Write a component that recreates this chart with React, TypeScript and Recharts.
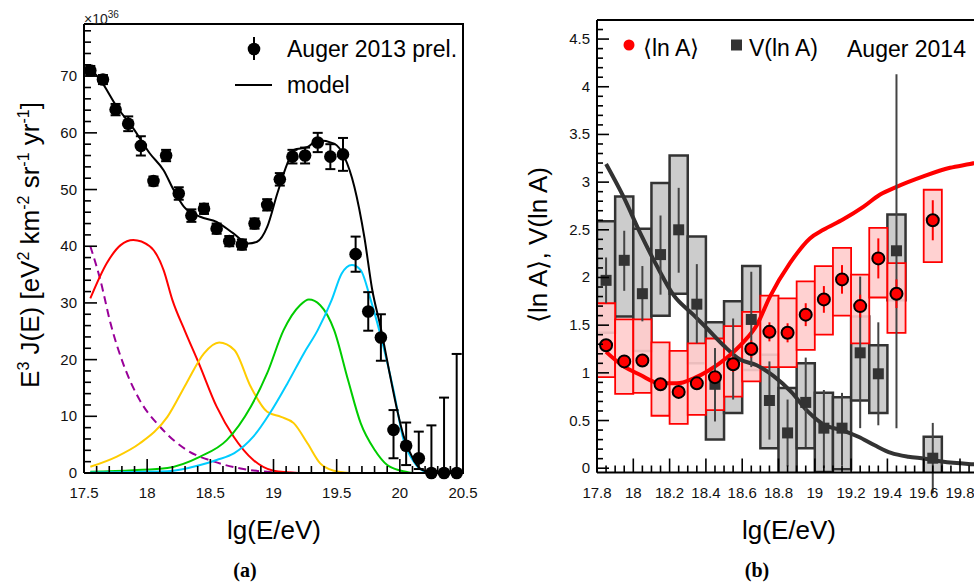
import React from 'react';
import { ComposedChart, Line, Scatter, XAxis, YAxis, ErrorBar, ReferenceArea } from 'recharts';

// ================= Panel (a): spectrum =================
const specLg = [17.55, 17.65, 17.75, 17.85, 17.95, 18.05, 18.15, 18.25, 18.35, 18.45, 18.55, 18.65, 18.75, 18.85, 18.95, 19.05, 19.15, 19.25, 19.35, 19.45, 19.55, 19.65, 19.75, 19.85, 19.95, 20.05, 20.15, 20.25, 20.35, 20.45];
const specFlux = [71.0, 69.4, 64.1, 61.6, 57.7, 51.5, 56.0, 49.3, 45.4, 46.6, 43.1, 40.9, 40.3, 44.0, 47.3, 51.8, 55.8, 56.0, 58.3, 55.8, 56.2, 38.6, 28.5, 23.9, 7.6, 4.8, 2.6, 0, 0, 0];
const specErrLow = [0.8, 0.8, 1.0, 1.3, 1.7, 0.8, 1.0, 1.1, 1.1, 0.9, 0.9, 0.9, 0.9, 0.9, 1.0, 1.1, 1.2, 1.4, 1.7, 2.2, 2.9, 3.1, 3.4, 4.1, 5.0, 3.4, 1.9, 0, 0, 0];
const specErrHigh = [0.8, 0.8, 1.0, 1.3, 1.7, 0.8, 1.0, 1.1, 1.1, 0.9, 0.9, 0.9, 0.9, 0.9, 1.0, 1.1, 1.2, 1.4, 1.7, 2.2, 2.9, 3.1, 3.4, 4.1, 3.5, 4.1, 4.7, 8.4, 13.3, 21.0];

const modelLg = [17.55, 17.63, 17.76, 17.89, 18.02, 18.13, 18.21, 18.29, 18.42, 18.55, 18.68, 18.8, 18.87, 18.95, 19.03, 19.11, 19.16, 19.27, 19.35, 19.48, 19.56, 19.64, 19.72, 19.78, 19.85, 19.92, 19.98, 20.03, 20.11, 20.18, 20.3];
const modelFlux = [71.3, 69.3, 64.6, 60.8, 56.4, 53.4, 49.9, 47.0, 45.2, 44.3, 42.3, 40.5, 40.8, 43.4, 49.3, 54.6, 57.0, 57.5, 58.7, 58.1, 55.8, 50.5, 41.5, 32.5, 25.5, 17.5, 11.0, 6.5, 2.3, 0.5, 0];

const redLg = [17.55, 17.68, 17.79, 17.89, 18.02, 18.13, 18.2, 18.3, 18.41, 18.55, 18.685, 18.84, 19.0, 19.2];
const redFlux = [30.8, 37.0, 40.2, 41.1, 40.0, 35.8, 30.5, 25.0, 19.3, 11.7, 6.4, 2.3, 0.4, 0];

const purpleLg = [17.55, 17.63, 17.71, 17.81, 17.94, 18.1, 18.31, 18.53, 18.74, 18.95, 19.2];
const purpleFlux = [40.0, 34.0, 26.4, 19.3, 12.9, 8.2, 4.1, 2.0, 0.8, 0.2, 0];

const yellowLg = [17.55, 17.76, 17.94, 18.16, 18.31, 18.45, 18.57, 18.69, 18.82, 18.95, 19.06, 19.16, 19.27, 19.37, 19.48, 19.6];
const yellowFlux = [1.1, 2.9, 5.2, 9.9, 15.8, 21.1, 23.0, 21.7, 15.2, 10.8, 9.9, 8.8, 5.2, 1.7, 0.4, 0];

const greenLg = [17.55, 17.89, 18.16, 18.42, 18.63, 18.82, 18.95, 19.08, 19.21, 19.28, 19.37, 19.48, 19.59, 19.69, 19.8, 19.9, 20.01, 20.1];
const greenFlux = [0.2, 0.5, 0.9, 2.9, 5.8, 11.7, 17.6, 25.2, 29.6, 30.6, 29.6, 25.2, 16.4, 8.8, 4.1, 1.4, 0.4, 0];

const cyanLg = [17.55, 18.16, 18.42, 18.55, 18.69, 18.84, 18.97, 19.11, 19.24, 19.35, 19.46, 19.54, 19.62, 19.69, 19.77, 19.87, 19.95, 20.03, 20.11, 20.18, 20.25];
const cyanFlux = [0.1, 0.3, 1.4, 2.3, 3.5, 6.4, 10.5, 15.8, 21.1, 25.2, 30.5, 35.2, 36.7, 35.8, 30.5, 22.3, 14.6, 5.8, 2.0, 0.4, 0];

const xMajorA = [17.5, 18, 18.5, 19, 19.5, 20, 20.5];
const yMajorA = [0, 10, 20, 30, 40, 50, 60, 70];

// ================= Panel (b): composition =================
const compLg = [17.85, 17.95, 18.05, 18.15, 18.25, 18.35, 18.45, 18.55, 18.65, 18.75, 18.85, 18.95, 19.05, 19.15, 19.25, 19.35, 19.45, 19.65];

const lnA = [1.29, 1.12, 1.13, 0.88, 0.8, 0.89, 0.955, 1.09, 1.25, 1.43, 1.42, 1.61, 1.77, 1.98, 1.7, 2.2, 1.83, 2.6];
const lnAStat = [0.05, 0.05, 0.05, 0.05, 0.05, 0.06, 0.07, 0.08, 0.09, 0.1, 0.1, 0.12, 0.14, 0.15, 0.12, 0.21, 0.15, 0.21];
const lnASysLow = [0.955, 0.78, 0.79, 0.55, 0.465, 0.56, 0.61, 0.75, 0.91, 1.06, 1.06, 1.24, 1.4, 1.6, 1.31, 1.79, 1.42, 2.16];
const lnASysHigh = [1.73, 1.56, 1.56, 1.32, 1.23, 1.31, 1.36, 1.49, 1.64, 1.81, 1.78, 1.96, 2.12, 2.31, 2.03, 2.52, 2.15, 2.92];

const vLnA = [1.97, 2.18, 1.83, 2.24, 2.5, 1.72, 0.88, 1.1, 1.56, 0.71, 0.37, 0.69, 0.42, 0.42, 1.21, 0.99, 2.28, 0.105];
const vStatLow = [0.24, 0.32, 0.29, 0.42, 0.45, 0.41, 0.39, 0.38, 0.5, 0.41, 0.35, 0.47, 0.42, 0.39, 0.79, 0.54, 1.86, 0.37];
const vStatHigh = [0.24, 0.31, 0.29, 0.41, 0.44, 0.42, 0.38, 0.47, 0.5, 0.41, 0.35, 0.47, 0.4, 0.37, 0.8, 0.54, 1.85, 0.37];
const vSysLow = [1.42, 1.59, 1.23, 1.6, 1.83, 1.1, 0.3, 0.58, 1.03, 0.21, -0.1, 0.21, -0.04, -0.01, 0.71, 0.58, 1.76, -0.1];
const vSysHigh = [2.59, 2.85, 2.51, 2.99, 3.28, 2.43, 1.53, 1.75, 2.12, 1.19, 0.84, 1.1, 0.79, 0.745, 1.59, 1.29, 2.66, 0.33];

const lnAModelLg = [17.85, 17.945, 18.037, 18.147, 18.24, 18.33, 18.42, 18.51, 18.61, 18.68, 18.753, 18.863, 18.973, 19.047, 19.157, 19.267, 19.36, 19.45, 19.598, 19.745, 19.855, 20.0];
const lnAModelVal = [1.22, 1.07, 0.98, 0.89, 0.89, 0.94, 1.03, 1.15, 1.33, 1.5, 1.8, 2.15, 2.41, 2.5, 2.61, 2.74, 2.87, 2.95, 3.06, 3.15, 3.19, 3.25];

const vModelLg = [17.85, 17.945, 18.037, 18.13, 18.22, 18.33, 18.404, 18.496, 18.588, 18.68, 18.77, 18.87, 18.964, 19.056, 19.148, 19.24, 19.33, 19.42, 19.515, 19.607, 19.7, 19.846, 20.0];
const vModelVal = [3.19, 2.85, 2.47, 2.12, 1.82, 1.61, 1.47, 1.29, 1.14, 1.08, 0.97, 0.8, 0.59, 0.45, 0.4, 0.33, 0.24, 0.16, 0.12, 0.1, 0.07, 0.045, 0.035];

const xMajorB = [17.8, 18, 18.2, 18.4, 18.6, 18.8, 19, 19.2, 19.4, 19.6, 19.8, 20];
const yMajorB = [0, 0.5, 1, 1.5, 2, 2.5, 3, 3.5, 4, 4.5];

// ---------- helpers ----------
const FONT = '"Liberation Sans", Arial, Helvetica, sans-serif';
const steps = (a: number, b: number, s: number) => {
  const out: number[] = [];
  const n = Math.round((b - a) / s);
  for (let i = 0; i <= n; i++) out.push(Math.round((a + i * s) * 1000) / 1000);
  return out;
};
const pts = (xs: number[], ys: number[]) => xs.map((x, i) => ({ x, y: ys[i] }));
const isIn = (arr: number[], v: number) => arr.some((m) => Math.abs(m - v) < 1e-6);

const makeXTick = (majors: number[], majLen: number, minLen: number) => (p: any) => {
  const v = p.payload.value;
  const maj = isIn(majors, v);
  return (
    <g>
      <line x1={p.x} x2={p.x} y1={p.y} y2={p.y - (maj ? majLen : minLen)} stroke="#000" strokeWidth={1.6} />
      {maj && (
        <text x={p.x} y={p.y + 25} textAnchor="middle" fontSize={15} fontFamily={FONT} fill="#111">
          {String(v)}
        </text>
      )}
    </g>
  );
};
const makeYTick = (majors: number[], majLen: number, minLen: number) => (p: any) => {
  const v = p.payload.value;
  const maj = isIn(majors, v);
  return (
    <g>
      <line x1={p.x} x2={p.x + (maj ? majLen : minLen)} y1={p.y} y2={p.y} stroke="#000" strokeWidth={1.6} />
      {maj && (
        <text x={p.x - 7} y={p.y + 5} textAnchor="end" fontSize={15} fontFamily={FONT} fill="#111">
          {String(v)}
        </text>
      )}
    </g>
  );
};

const BlackDot = (p: any) => <circle cx={p.cx} cy={p.cy} r={6.3} fill="#000" />;
const RedDot = (p: any) => <circle cx={p.cx} cy={p.cy} r={6} fill="#ff0000" stroke="#000" strokeWidth={2} />;
const GraySq = (p: any) => <rect x={p.cx - 5.5} y={p.cy - 5.5} width={11} height={11} fill="#333" />;

const specData = specLg.map((x, i) => ({ x, y: specFlux[i], err: [specErrLow[i], specErrHigh[i]] }));
const lnAData = compLg.map((x, i) => ({ x, y: lnA[i], err: [lnAStat[i], lnAStat[i]] }));
const vData = compLg.map((x, i) => ({ x, y: vLnA[i], err: [vStatLow[i], vStatHigh[i]] }));

const abs = (extra: React.CSSProperties): React.CSSProperties => ({ position: 'absolute', fontFamily: FONT, color: '#000', whiteSpace: 'nowrap', ...extra });

export default function App() {
  return (
    <div style={{ position: 'fixed', left: 0, top: 0, width: 974, height: 586, overflow: 'hidden', background: '#fff' }}>
      {/* ---------- Panel (a) ---------- */}
      <div style={{ position: 'absolute', left: 0, top: 0 }}>
        <ComposedChart width={490} height={586} margin={{ top: 24, right: 27, left: 24, bottom: 73 }}>
          <XAxis
            type="number"
            dataKey="x"
            domain={[17.5, 20.5]}
            ticks={steps(17.5, 20.5, 0.1)}
            interval={0}
            tickSize={0}
            tickMargin={0}
            tickLine={false}
            tick={makeXTick(xMajorA, 14, 7)}
            axisLine={{ stroke: '#000', strokeWidth: 2 }}
            height={40}
          />
          <YAxis
            type="number"
            dataKey="y"
            domain={[0, 79.2]}
            ticks={steps(0, 78, 2)}
            interval={0}
            tickSize={0}
            tickMargin={0}
            tickLine={false}
            tick={makeYTick(yMajorA, 13, 7)}
            axisLine={{ stroke: '#000', strokeWidth: 2 }}
            width={60}
          />
          <Line data={pts(purpleLg, purpleFlux)} dataKey="y" type="monotone" stroke="#990099" strokeWidth={2} strokeDasharray="8 5" dot={false} isAnimationActive={false} />
          <Line data={pts(redLg, redFlux)} dataKey="y" type="monotone" stroke="#ff0000" strokeWidth={2} dot={false} isAnimationActive={false} />
          <Line data={pts(yellowLg, yellowFlux)} dataKey="y" type="monotone" stroke="#ffcc00" strokeWidth={2} dot={false} isAnimationActive={false} />
          <Line data={pts(greenLg, greenFlux)} dataKey="y" type="monotone" stroke="#00cc00" strokeWidth={2} dot={false} isAnimationActive={false} />
          <Line data={pts(cyanLg, cyanFlux)} dataKey="y" type="monotone" stroke="#00ccff" strokeWidth={2} dot={false} isAnimationActive={false} />
          <Line data={pts(modelLg, modelFlux)} dataKey="y" type="monotone" stroke="#000" strokeWidth={2} dot={false} isAnimationActive={false} />
          <Scatter data={specData} dataKey="y" shape={BlackDot} isAnimationActive={false}>
            <ErrorBar dataKey="err" direction="y" width={5} stroke="#000" strokeWidth={2} isAnimationActive={false} />
          </Scatter>
        </ComposedChart>
      </div>

      {/* frame (a) top + right */}
      <div style={{ position: 'absolute', left: 84, top: 23, width: 380, height: 451, boxSizing: 'border-box', borderTop: '2px solid #000', borderRight: '2px solid #000' }} />

      {/* legend (a) */}
      <svg style={{ position: 'absolute', left: 0, top: 0 }} width={490} height={120}>
        <line x1={254} x2={254} y1={37} y2={60} stroke="#000" strokeWidth={2} />
        <circle cx={254} cy={49} r={6.3} fill="#000" />
        <line x1={235} x2={272} y1={85} y2={85} stroke="#000" strokeWidth={2} />
      </svg>
      <div style={abs({ left: 287, top: 35, fontSize: 23, lineHeight: '28px' })}>Auger 2013 prel.</div>
      <div style={abs({ left: 287, top: 71, fontSize: 23, lineHeight: '28px' })}>model</div>
      <div style={abs({ left: 84, top: 6, fontSize: 14, lineHeight: '18px', color: '#222' })}>
        ×10<sup style={{ fontSize: 10 }}>36</sup>
      </div>

      {/* axis titles (a) */}
      <div style={abs({ left: 274, top: 530, fontSize: 26, lineHeight: '30px', transform: 'translate(-50%, -50%)' })}>lg(E/eV)</div>
      <div style={abs({ left: 27, top: 245, fontSize: 26, lineHeight: '30px', transform: 'translate(-50%, -50%) rotate(-90deg)' })}>
        E<sup style={{ fontSize: 16 }}>3</sup> J(E) [eV<sup style={{ fontSize: 16 }}>2</sup> km<sup style={{ fontSize: 16 }}>-2</sup> sr<sup style={{ fontSize: 16 }}>-1</sup> yr<sup style={{ fontSize: 16 }}>-1</sup>]
      </div>
      <div style={abs({ left: 245, top: 570, fontSize: 20, lineHeight: '24px', fontWeight: 'bold', fontFamily: '"Liberation Serif", "DejaVu Serif", serif', transform: 'translate(-50%, -50%)' })}>(a)</div>

      {/* ---------- Panel (b) ---------- */}
      <div style={{ position: 'absolute', left: 490, top: 0 }}>
        <ComposedChart width={520} height={586} margin={{ top: 20, right: 13.7, left: 47, bottom: 73.5 }}>
          <XAxis
            type="number"
            dataKey="x"
            domain={[17.8, 20.0]}
            ticks={steps(17.8, 20.0, 0.05)}
            interval={0}
            tickSize={0}
            tickMargin={0}
            tickLine={false}
            tick={makeXTick(xMajorB, 14, 7)}
            axisLine={{ stroke: '#000', strokeWidth: 2 }}
            height={40}
          />
          <YAxis
            type="number"
            dataKey="y"
            domain={[-0.045, 4.7]}
            allowDataOverflow
            ticks={steps(0, 4.7, 0.1)}
            interval={0}
            tickSize={0}
            tickMargin={0}
            tickLine={false}
            tick={makeYTick(yMajorB, 12, 6)}
            axisLine={{ stroke: '#000', strokeWidth: 2 }}
            width={60}
          />
          {compLg.map((x, i) => (
            <ReferenceArea key={'vb' + i} x1={x - 0.05} x2={x + 0.05} y1={vSysLow[i]} y2={vSysHigh[i]} fill="#cccccc" fillOpacity={1} stroke="#333" strokeWidth={2.5} strokeOpacity={1} ifOverflow="hidden" />
          ))}
          {compLg.map((x, i) => (
            <ReferenceArea key={'rb' + i} x1={x - 0.05} x2={x + 0.05} y1={lnASysLow[i]} y2={lnASysHigh[i]} fill="#ffcccc" fillOpacity={0.9} stroke="#ff0000" strokeWidth={1.8} strokeOpacity={1} ifOverflow="hidden" />
          ))}
          <Line data={pts(vModelLg, vModelVal)} dataKey="y" type="monotone" stroke="#333" strokeWidth={4} dot={false} isAnimationActive={false} />
          <Line data={pts(lnAModelLg, lnAModelVal)} dataKey="y" type="monotone" stroke="#ff0000" strokeWidth={4} dot={false} isAnimationActive={false} />
          <Scatter data={vData} dataKey="y" shape={GraySq} isAnimationActive={false}>
            <ErrorBar dataKey="err" direction="y" width={0} stroke="#444" strokeWidth={2} isAnimationActive={false} />
          </Scatter>
          <Scatter data={lnAData} dataKey="y" shape={RedDot} isAnimationActive={false}>
            <ErrorBar dataKey="err" direction="y" width={0} stroke="#ff0000" strokeWidth={2} isAnimationActive={false} />
          </Scatter>
        </ComposedChart>
      </div>

      {/* frame (b) top */}
      <div style={{ position: 'absolute', left: 597, top: 19, width: 420, height: 2, background: '#000' }} />

      {/* legend (b) */}
      <svg style={{ position: 'absolute', left: 600, top: 30 }} width={150} height={30}>
        <circle cx={29} cy={15} r={5.5} fill="#ff0000" />
        <rect x={131} y={9.5} width={11} height={11} fill="#333" />
      </svg>
      <div style={abs({ left: 643, top: 34, fontSize: 23, lineHeight: '28px' })}>⟨ln A⟩</div>
      <div style={abs({ left: 749, top: 34, fontSize: 23, lineHeight: '28px' })}>V(ln A)</div>
      <div style={abs({ left: 847, top: 35, fontSize: 23, lineHeight: '28px' })}>Auger 2014</div>

      {/* axis titles (b) */}
      <div style={abs({ left: 789, top: 530, fontSize: 26, lineHeight: '30px', transform: 'translate(-50%, -50%)' })}>lg(E/eV)</div>
      <div style={abs({ left: 538, top: 245, fontSize: 26, lineHeight: '30px', transform: 'translate(-50%, -50%) rotate(-90deg)' })}>⟨ln A⟩, V(ln A)</div>
      <div style={abs({ left: 757, top: 570, fontSize: 20, lineHeight: '24px', fontWeight: 'bold', fontFamily: '"Liberation Serif", "DejaVu Serif", serif', transform: 'translate(-50%, -50%)' })}>(b)</div>
    </div>
  );
}
